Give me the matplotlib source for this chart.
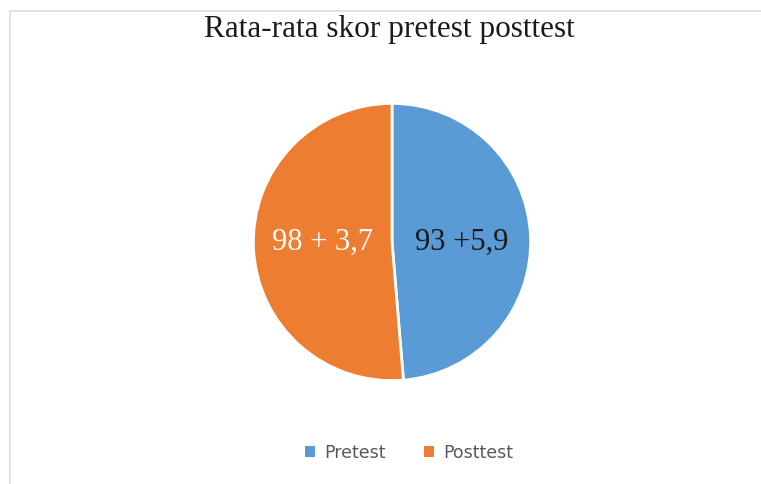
import matplotlib.pyplot as plt
from matplotlib.patches import Rectangle, Patch

# data
categories = ['Pretest', 'Posttest']
means = [93, 98]
label_texts = ['93 +5,9', '98 + 3,7']
colors = ['#5B9BD5', '#ED7D31']
text_colors = ['#1a1a1a', 'white']

W, H = 761, 484
fig = plt.figure(figsize=(W / 100, H / 100), dpi=100)

# light chart border (top and left visible)
fig.patches.append(Rectangle((10 / W, -0.1), 1.2, (H - 11) / H + 0.1,
                             transform=fig.transFigure, fill=False,
                             edgecolor='#DDDDDD', linewidth=1.2))

cx, cy, r = 392, 242, 140
ax = fig.add_axes([(cx - r) / W, (H - cy - r) / H, 2 * r / W, 2 * r / H])
wedges, texts = ax.pie(means, labels=label_texts, colors=colors,
                       startangle=90, counterclock=False,
                       labeldistance=0.5,
                       wedgeprops=dict(edgecolor='white', linewidth=2))
for t, c in zip(texts, text_colors):
    t.set_color(c)
    t.set_family(['Liberation Serif', 'DejaVu Serif'])
    t.set_fontsize(22)
    t.set_ha('center')
    t.set_va('center')
    t.set_y(0)
ax.set_xlim(-1.01, 1.01)
ax.set_ylim(-1.01, 1.01)

fig.text(389 / W, 1 - 30 / H, 'Rata-rata skor pretest posttest',
         ha='center', va='center', fontsize=22.5, family='Liberation Serif',
         color='#1a1a1a')

handles = [Patch(facecolor=c, edgecolor='none') for c in colors]
fig.legend(handles, categories, loc='center', bbox_to_anchor=(409 / W, 1 - 453 / H),
           ncol=2, frameon=False, fontsize=12.5, labelcolor='#595959',
           handlelength=0.6, handleheight=0.6, handletextpad=0.5,
           columnspacing=2.2)

fig.savefig('out.png', dpi=100)
